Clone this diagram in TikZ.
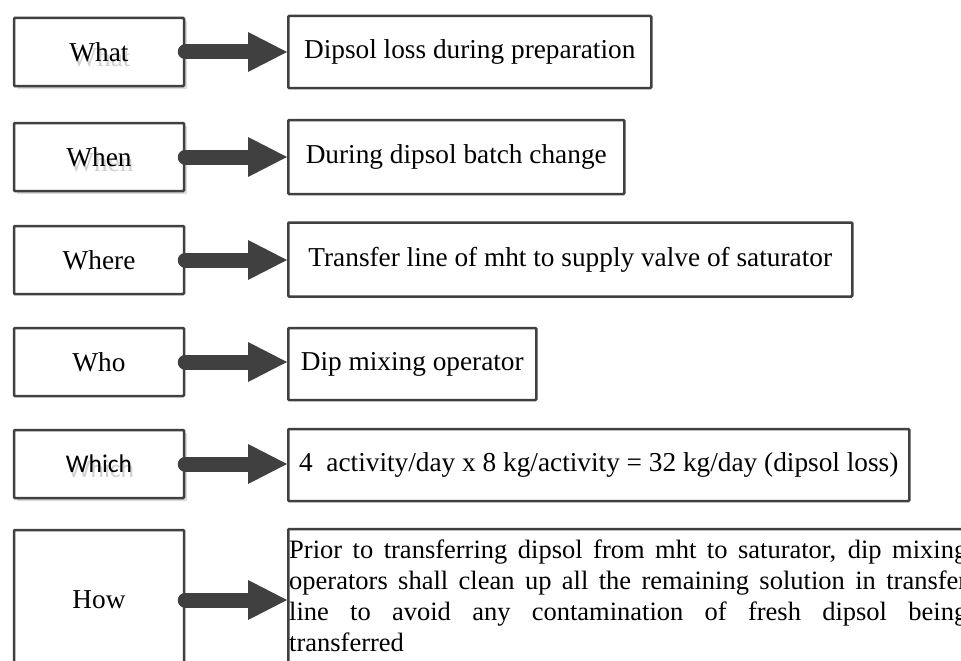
\documentclass[tikz,border=0pt]{standalone}
\usepackage{fontspec}
\setmainfont{Liberation Serif}
\newfontfamily\sansf{Carlito}
\usetikzlibrary{arrows.meta,shadows}
\definecolor{edge}{HTML}{404040}
\definecolor{shade}{HTML}{DCDCDC}
\newcommand\ghosted[1]{\makebox[0pt][l]{\smash{\raisebox{-5pt}{\hspace{2pt}\textcolor{black!18}{#1}}}}#1}
\begin{document}
\begin{tikzpicture}[x=1pt,y=-1pt,
  bodyfont/.style={font=\fontsize{27.3}{31}\selectfont},
  lbox/.style={draw=edge, line width=2.5pt, rounded corners=1pt, fill=white,
    minimum width=170pt, minimum height=68pt, inner sep=0pt, bodyfont},
  sbox/.style={drop shadow={shadow xshift=3pt, shadow yshift=-3pt, fill=shade, opacity=1}},
  rbox/.style={draw=edge, line width=2.5pt, rounded corners=1pt, fill=white,
    minimum height=72pt, inner sep=0pt, anchor=west, bodyfont},
  flow/.style={draw=edge, line width=15pt, line cap=round,
    -{Triangle[length=39pt,width=40pt,line width=0pt]}}
]
\useasboundingbox (0,0) rectangle (961,661);

% left boxes
\node[lbox,sbox] (whatl)  at (99,52)  {\ghosted{What}};
\node[lbox,sbox] (whenl)  at (99,157) {\ghosted{When}};
\node[lbox]      (wherel) at (99,260) {Where};
\node[lbox]      (whol)   at (99,362) {Who};
\node[lbox,sbox,font=\sansf\fontsize{25.5}{30}\selectfont] (whichl) at (99,464) {\ghosted{Which}};
\node[lbox,minimum height=140pt] (howl) at (99,600) {How};

% right boxes
\node[rbox,minimum width=363pt] (whatr)  at (287,52)    {Dipsol loss during preparation};
\node[rbox,minimum width=336pt,minimum height=74pt] (whenr) at (287,157) {During dipsol batch change};
\node[rbox,minimum width=564pt,minimum height=74pt] (wherer) at (287,259.5) {Transfer line of mht to supply valve of saturator};
\node[rbox,minimum width=248pt] (whor)   at (287,364)   {Dip mixing operator};
\node[rbox,minimum width=621pt] (whichr) at (287,465)   {4\ \ activity/day x 8 kg/activity = 32 kg/day (dipsol loss)};
\node[rbox,minimum width=700pt,minimum height=142pt] (howr) at (287,600) {};

\node[anchor=base west, inner sep=0pt, font=\fontsize{26.5}{31}\selectfont] (howt) at (289,558) {\vtop{%
  \hbox to 678pt{Prior to transferring dipsol from mht to saturator, dip mixing}%
  \hbox to 678pt{operators shall clean up all the remaining solution in transfer}%
  \hbox to 678pt{line to avoid any contamination of fresh dipsol being}%
  \hbox{transferred}}};

% connectors
\draw[flow] (whatl.east)  -- (whatl.east  -| whatr.west);
\draw[flow] (whenl.east)  -- (whenl.east  -| whenr.west);
\draw[flow] (wherel.east) -- (wherel.east -| wherer.west);
\draw[flow] (whol.east)   -- (whol.east   -| whor.west);
\draw[flow] (whichl.east) -- (whichl.east -| whichr.west);
\draw[flow] (howl.east)   -- (howl.east   -| howr.west);
\end{tikzpicture}
\end{document}
